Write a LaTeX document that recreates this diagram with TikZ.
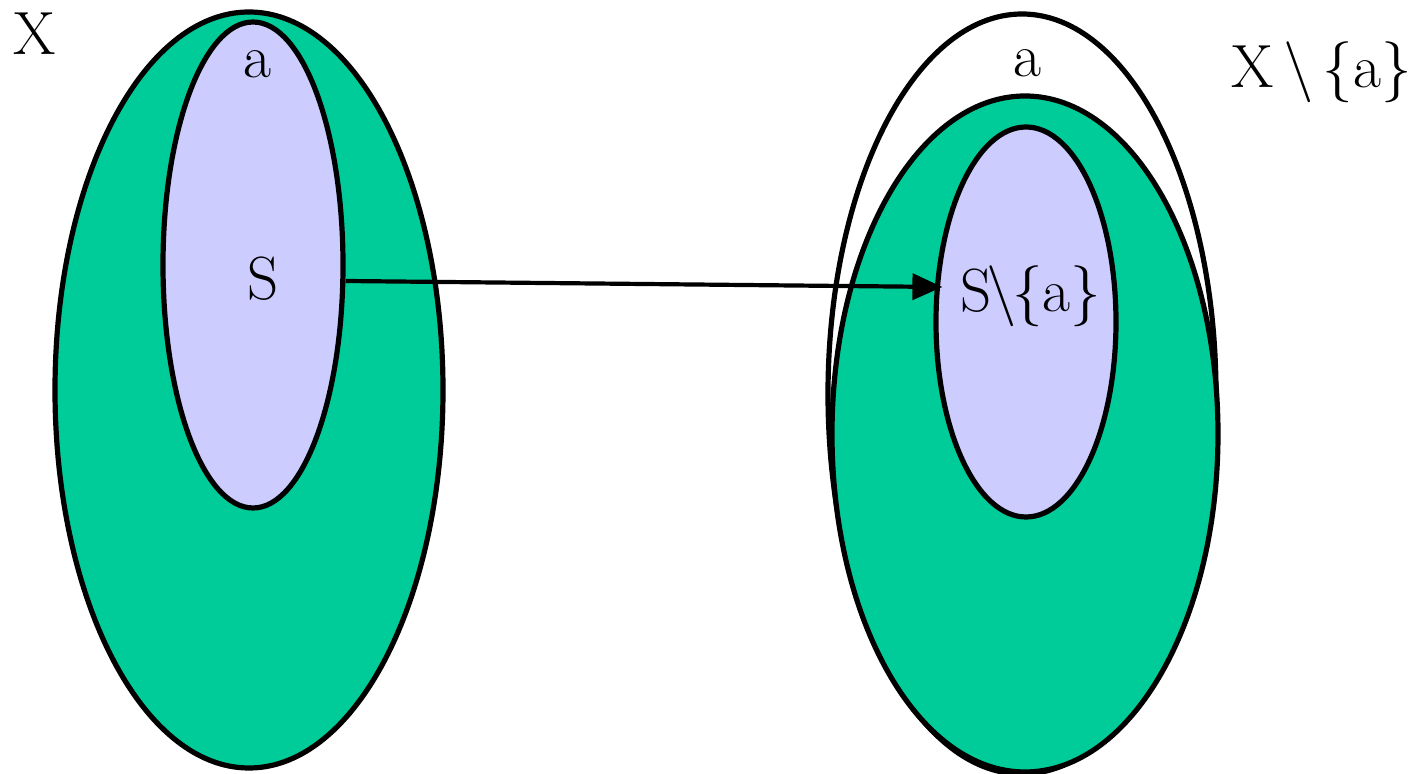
\documentclass[tikz,border=0pt]{standalone}
\usetikzlibrary{shapes.geometric,arrows.meta,calc}
\definecolor{setgreen}{RGB}{0,204,153}
\definecolor{lav}{RGB}{204,204,255}
\tikzset{
  setshape/.style={ellipse, draw=black, line width=2.6pt, inner sep=0pt},
  lbl/.style={anchor=base, inner sep=0pt, font=\fontsize{30.5}{36}\selectfont},
  conn/.style={line width=2.1pt, -{Triangle[length=15pt,width=13pt]}}
}
\begin{document}
\begin{tikzpicture}[x=0.5pt,y=-0.5pt]
\useasboundingbox (0,0) rectangle (1421,774);
% left
\node[setshape, fill=setgreen, minimum width=194pt, minimum height=378pt] (Xl) at (249,390) {};
\node[setshape, fill=lav, minimum width=90pt, minimum height=243pt] (Sl) at (253,265) {};
% right
\node[setshape, fill=white, minimum width=194pt, minimum height=380pt] (Xa) at (1022,394) {};
\node[setshape, fill=setgreen, minimum width=193pt, minimum height=338pt] (Xr) at (1025,434) {};
\node[setshape, fill=lav, minimum width=90pt, minimum height=195pt] (Sr) at (1026,322) {};
% arrow
\coordinate (p) at ($(Sl.east)+(0,16)$);
\coordinate (q) at ($(Sr.west)+(9,-35)$);
\draw[conn] (p) -- (q);
% labels
\node[lbl] (tX) at (35,55) {X};
\node[lbl] (ta1) at (257,78) {a};
\node[lbl] (tS) at (263,300) {S};
\node[lbl] (ta2) at (1027,77) {a};
\node[lbl] (tXa) at (1322,88) {X\hspace{0.15em}\textbackslash\hspace{0.15em}\{a\}};
\node[lbl] (tSa) at (1031,312) {S\kern-0.08em\textbackslash\kern-0.08em\{a\}};
\end{tikzpicture}
\end{document}
